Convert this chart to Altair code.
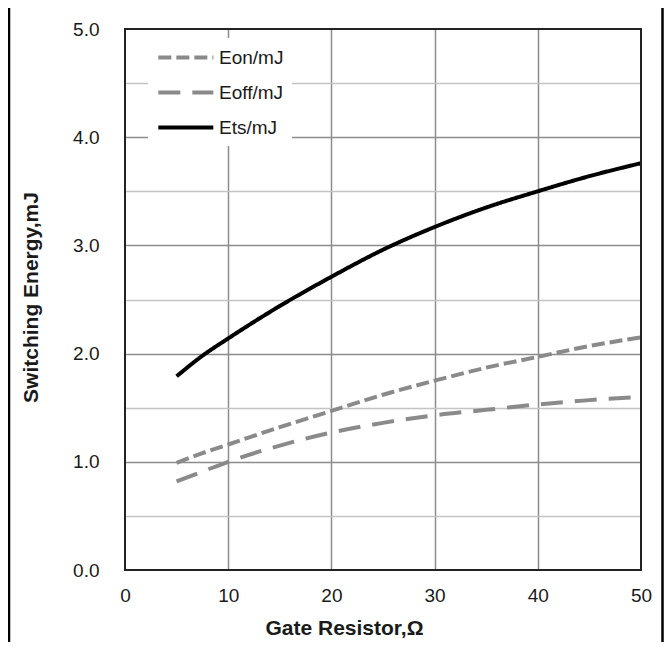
import altair as alt
import pandas as pd

# Gate resistor values (ohm)
rg = [5, 7.5, 10, 15, 20, 25, 30, 35, 40, 45, 50]
# Switching energies (mJ)
eon = [0.99, 1.08, 1.16, 1.32, 1.47, 1.62, 1.75, 1.87, 1.97, 2.07, 2.15]
eoff = [0.82, 0.91, 1.00, 1.15, 1.27, 1.36, 1.43, 1.48, 1.53, 1.57, 1.60]
ets = [1.79, 1.98, 2.14, 2.44, 2.71, 2.96, 3.17, 3.35, 3.50, 3.64, 3.76]

series = ["Eon/mJ", "Eoff/mJ", "Ets/mJ"]
colors = ["#8a8a8a", "#8a8a8a", "#000000"]
dashes = [[13, 5], [22, 12], [1, 0]]

x_ticks = [0, 10, 20, 30, 40, 50]
y_ticks = [0, 0.5, 1, 1.5, 2, 2.5, 3, 3.5, 4, 4.5, 5]

rows = []
for name, vals in zip(series, [eon, eoff, ets]):
    for r, v in zip(rg, vals):
        rows.append({"rg": r, "energy": v, "series": name})
df = pd.DataFrame(rows)

W, H = 516, 541
FONT = "Liberation Sans"

legend = alt.Legend(
    title=None,
    orient="none",
    legendX=23,
    legendY=9,
    fillColor="white",
    padding=8,
    rowPadding=13,
    symbolType="M-1,0H5",
    symbolSize=336,
    symbolStrokeWidth=4,
    labelOffset=40,
    labelFontSize=19,
    labelFont=FONT,
    labelColor="#1a1a1a",
)

lines = alt.Chart(df).mark_line(strokeWidth=4, interpolate="monotone").encode(
    x=alt.X(
        "rg:Q",
        scale=alt.Scale(domain=[0, 50], nice=False),
        axis=alt.Axis(
            values=x_ticks,
            title="Gate Resistor,Ω",
            titleFont=FONT,
            titleFontSize=21,
            titleFontWeight="bold",
            titleColor="#1a1a1a",
            titleX=219,
            titleY=64,
            titleAlign="center",
            titleBaseline="alphabetic",
            labelFont=FONT,
            labelFontSize=19,
            labelColor="#1a1a1a",
            labelPadding=16,
            labelFlush=False,
            ticks=False,
            tickSize=0,
            domain=False,
            gridColor="#8c8c8c",
            gridWidth=1.5,
            gridOpacity={"condition": {"test": "datum.value === 0 || datum.value === 50", "value": 0}, "value": 1},
        ),
    ),
    y=alt.Y(
        "energy:Q",
        scale=alt.Scale(domain=[0, 5], nice=False),
        axis=alt.Axis(
            values=y_ticks,
            labelExpr="datum.value % 1 === 0 ? format(datum.value, '.1f') : ''",
            title="Switching Energy,mJ",
            titleFont=FONT,
            titleFontSize=21,
            titleFontWeight="bold",
            titleColor="#1a1a1a",
            titleAngle=270,
            titleX=-88,
            titleY=268,
            titleAlign="center",
            titleBaseline="alphabetic",
            labelFont=FONT,
            labelFontSize=19,
            labelColor="#1a1a1a",
            labelPadding=26,
            labelFlush=False,
            ticks=False,
            tickSize=0,
            domain=False,
            gridColor={"condition": {"test": "datum.value % 1 !== 0", "value": "#c4c4c4"}, "value": "#8c8c8c"},
            gridWidth=1.5,
            gridOpacity={"condition": {"test": "datum.value === 0 || datum.value === 5", "value": 0}, "value": 1},
        ),
    ),
    color=alt.Color("series:N", scale=alt.Scale(domain=series, range=colors), sort=series, legend=legend),
    strokeDash=alt.StrokeDash("series:N", scale=alt.Scale(domain=series, range=dashes), sort=series, legend=legend),
)

BOTTOM = 72
RIGHT = 23
frame_df = pd.DataFrame({"k": [0]})
frame_left = alt.Chart(frame_df).mark_rule(color="black", strokeWidth=2.5).encode(
    x=alt.value(-116), y=alt.value(-21), y2=alt.value(H + BOTTOM)
)
frame_right = alt.Chart(frame_df).mark_rule(color="black", strokeWidth=2.5).encode(
    x=alt.value(W + RIGHT - 1.5), y=alt.value(-21), y2=alt.value(H + BOTTOM)
)
plot_border = alt.Chart(frame_df).mark_rect(fill=None, stroke="#222222", strokeWidth=2).encode(
    x=alt.value(0), x2=alt.value(W), y=alt.value(0), y2=alt.value(H)
)

chart = alt.layer(lines, plot_border, frame_left, frame_right).properties(
    width=W,
    height=H,
    autosize=alt.AutoSizeParams(type="none"),
    padding={"left": 117, "top": 21, "right": RIGHT, "bottom": BOTTOM},
).configure_view(
    stroke=None
).configure(background="white")

chart.save("out.html", embed_options={"renderer": "svg", "actions": False})
